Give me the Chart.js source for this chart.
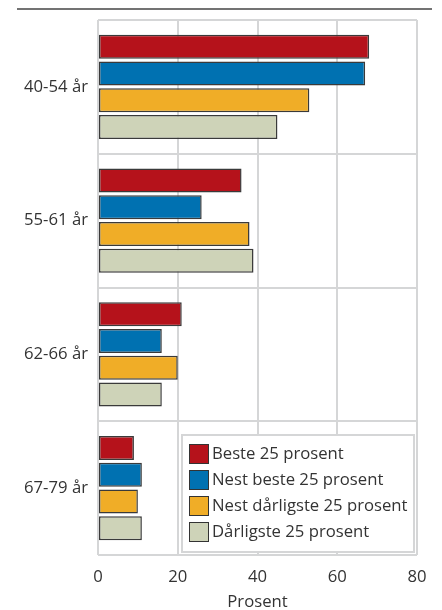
<!DOCTYPE html>
<html>
<head>
<meta charset="utf-8">
<script src="https://cdn.jsdelivr.net/npm/chart.js@4.4.1/dist/chart.umd.min.js"></script>
<style>
  html, body { margin: 0; padding: 0; background: #fff; }
  #wrap { width: 442px; height: 610px; position: relative; }
</style>
</head>
<body>
<div id="wrap"><canvas id="chart"></canvas></div>
<script>
// Data
const ageGroups = ['40-54 år', '55-61 år', '62-66 år', '67-79 år'];
const seriesNames = ['Beste 25 prosent', 'Nest beste 25 prosent', 'Nest dårligste 25 prosent', 'Dårligste 25 prosent'];
const best = [68, 36, 21, 9];
const nextBest = [67, 26, 16, 11];
const nextWorst = [53, 38, 20, 10];
const worst = [45, 39, 16, 11];
const xTicks = [0, 20, 40, 60, 80];

const colors = ['#b5121b', '#0071b1', '#f0ad27', '#ced3b8'];
const textColor = '#333333';
const gridColor = '#d5d6d7';
const fontFamily = '"Open Sans", "Noto Sans", sans-serif';
const fontSize = 16.7;

// top rule + legend box inside the plot
const decorPlugin = {
    id: 'decor',
    beforeDraw(chart) {
        const ctx = chart.ctx;
        ctx.save();
        ctx.strokeStyle = '#444';
        ctx.lineWidth = 1.5;
        ctx.beginPath();
        ctx.moveTo(17, 9);
        ctx.lineTo(432, 9);
        ctx.stroke();
        ctx.restore();
    },
    afterDraw(chart) {
        const ctx = chart.ctx;
        const area = chart.chartArea;
        const w = 232, h = 117;
        const x = area.right - 3 - w;
        const y = area.bottom - 3 - h;
        ctx.save();
        ctx.fillStyle = '#fff';
        ctx.fillRect(x, y, w, h);
        ctx.strokeStyle = gridColor;
        ctx.lineWidth = 2;
        ctx.strokeRect(x, y, w, h);
        ctx.font = fontSize + 'px ' + fontFamily;
        ctx.textBaseline = 'middle';
        chart.data.datasets.forEach((ds, i) => {
            const by = y + 9 + i * 26;
            ctx.fillStyle = ds.backgroundColor;
            ctx.fillRect(x + 7, by, 20, 20);
            ctx.strokeStyle = '#333';
            ctx.lineWidth = 1;
            ctx.strokeRect(x + 7.5, by + 0.5, 19, 19);
            ctx.fillStyle = textColor;
            ctx.fillText(ds.label, x + 30, by + 10.5);
        });
        ctx.restore();
    }
};

const datasets = [best, nextBest, nextWorst, worst].map((vals, i) => ({
    label: seriesNames[i],
    data: vals,
    backgroundColor: colors[i],
    borderColor: '#3a3a3a',
    borderWidth: 1.5,
    borderSkipped: false,
    categoryPercentage: 0.8,
    barPercentage: 0.9
}));

new Chart(document.getElementById('chart'), {
    type: 'bar',
    data: { labels: ageGroups, datasets: datasets },
    plugins: [decorPlugin],
    options: {
        indexAxis: 'y',
        responsive: true,
        maintainAspectRatio: false,
        animation: false,
        layout: { padding: { top: 19, right: 25, left: 0, bottom: 0 } },
        plugins: {
            legend: { display: false },
            tooltip: { enabled: false }
        },
        scales: {
            x: {
                min: 0,
                max: 80,
                afterBuildTicks(axis) { axis.ticks = xTicks.map(v => ({ value: v })); },
                afterFit(axis) { axis.height = 55; },
                grid: { color: gridColor, lineWidth: 2, drawTicks: false },
                border: { display: false },
                ticks: { color: textColor, font: { family: fontFamily, size: fontSize }, padding: 12 },
                title: {
                    display: true,
                    text: 'Prosent',
                    color: textColor,
                    font: { family: fontFamily, size: fontSize },
                    padding: { top: 0, bottom: -2 }
                }
            },
            y: {
                afterFit(axis) { axis.width = 98; },
                grid: { color: gridColor, lineWidth: 2, drawTicks: false, offset: true },
                border: { display: false },
                ticks: { color: textColor, font: { family: fontFamily, size: fontSize }, padding: 10 }
            }
        }
    }
});
</script>
</body>
</html>
